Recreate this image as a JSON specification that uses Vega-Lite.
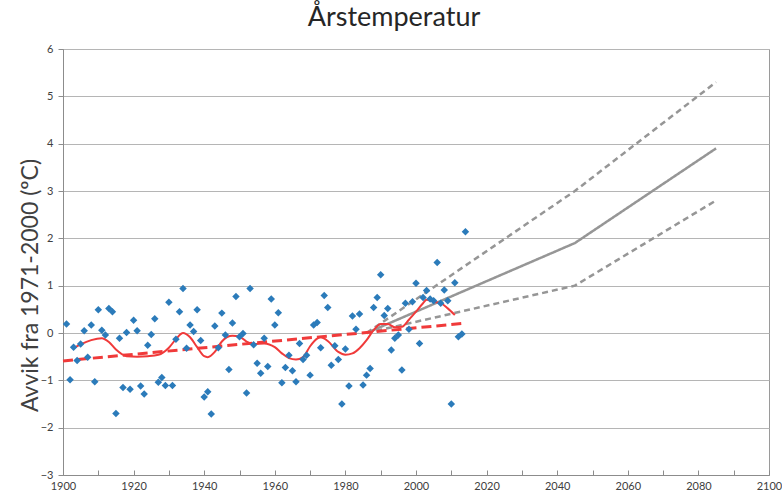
{
  "$schema": "https://vega.github.io/schema/vega-lite/v6.json",
  "autosize": "none",
  "width": 706,
  "height": 426,
  "padding": {"left": 63, "top": 49, "right": 13, "bottom": 25},
  "background": "white",
  "config": {
    "font": "Lato",
    "view": {"stroke": "#9a9a9a", "strokeWidth": 1},
    "axis": {
      "labelFont": "Lato",
      "labelFontSize": 11,
      "labelColor": "#404040",
      "domainColor": "#8c8c8c",
      "tickColor": "#8c8c8c",
      "gridColor": "#b5b5b5",
      "gridWidth": 1
    }
  },
  "title": {
    "text": "Årstemperatur",
    "font": "Lato",
    "fontSize": 27,
    "fontWeight": "normal",
    "color": "#262626",
    "anchor": "middle",
    "dx": -22,
    "offset": 11
  },
  "datasets": {
    "obs": [
      {"year": 1901, "avvik": 0.19}, {"year": 1902, "avvik": -0.99}, {"year": 1903, "avvik": -0.30},
      {"year": 1904, "avvik": -0.58}, {"year": 1905, "avvik": -0.23}, {"year": 1906, "avvik": 0.05},
      {"year": 1907, "avvik": -0.51}, {"year": 1908, "avvik": 0.17}, {"year": 1909, "avvik": -1.03},
      {"year": 1910, "avvik": 0.49}, {"year": 1911, "avvik": 0.06}, {"year": 1912, "avvik": -0.04},
      {"year": 1913, "avvik": 0.52}, {"year": 1914, "avvik": 0.45}, {"year": 1915, "avvik": -1.70},
      {"year": 1916, "avvik": -0.11}, {"year": 1917, "avvik": -1.15}, {"year": 1918, "avvik": 0.01},
      {"year": 1919, "avvik": -1.19}, {"year": 1920, "avvik": 0.27}, {"year": 1921, "avvik": 0.05},
      {"year": 1922, "avvik": -1.12}, {"year": 1923, "avvik": -1.29}, {"year": 1924, "avvik": -0.26},
      {"year": 1925, "avvik": -0.03}, {"year": 1926, "avvik": 0.30}, {"year": 1927, "avvik": -1.04},
      {"year": 1928, "avvik": -0.94}, {"year": 1929, "avvik": -1.11}, {"year": 1930, "avvik": 0.65},
      {"year": 1931, "avvik": -1.11}, {"year": 1932, "avvik": -0.13}, {"year": 1933, "avvik": 0.45},
      {"year": 1934, "avvik": 0.94}, {"year": 1935, "avvik": -0.32}, {"year": 1936, "avvik": 0.17},
      {"year": 1937, "avvik": 0.03}, {"year": 1938, "avvik": 0.49}, {"year": 1939, "avvik": -0.16},
      {"year": 1940, "avvik": -1.35}, {"year": 1941, "avvik": -1.24}, {"year": 1942, "avvik": -1.71},
      {"year": 1943, "avvik": 0.15}, {"year": 1944, "avvik": -0.31}, {"year": 1945, "avvik": 0.42},
      {"year": 1946, "avvik": -0.04}, {"year": 1947, "avvik": -0.77}, {"year": 1948, "avvik": 0.21},
      {"year": 1949, "avvik": 0.77}, {"year": 1950, "avvik": -0.08}, {"year": 1951, "avvik": -0.01},
      {"year": 1952, "avvik": -1.27}, {"year": 1953, "avvik": 0.94}, {"year": 1954, "avvik": -0.25},
      {"year": 1955, "avvik": -0.64}, {"year": 1956, "avvik": -0.85}, {"year": 1957, "avvik": -0.11},
      {"year": 1958, "avvik": -0.71}, {"year": 1959, "avvik": 0.72}, {"year": 1960, "avvik": 0.17},
      {"year": 1961, "avvik": 0.43}, {"year": 1962, "avvik": -1.05}, {"year": 1963, "avvik": -0.73},
      {"year": 1964, "avvik": -0.47}, {"year": 1965, "avvik": -0.80}, {"year": 1966, "avvik": -1.03},
      {"year": 1967, "avvik": -0.22}, {"year": 1968, "avvik": -0.56}, {"year": 1969, "avvik": -0.47},
      {"year": 1970, "avvik": -0.89}, {"year": 1971, "avvik": 0.17}, {"year": 1972, "avvik": 0.22},
      {"year": 1973, "avvik": -0.31}, {"year": 1974, "avvik": 0.79}, {"year": 1975, "avvik": 0.54},
      {"year": 1976, "avvik": -0.68}, {"year": 1977, "avvik": -0.27}, {"year": 1978, "avvik": -0.56},
      {"year": 1979, "avvik": -1.50}, {"year": 1980, "avvik": -0.34}, {"year": 1981, "avvik": -1.12},
      {"year": 1982, "avvik": 0.36}, {"year": 1983, "avvik": 0.08}, {"year": 1984, "avvik": 0.40},
      {"year": 1985, "avvik": -1.10}, {"year": 1986, "avvik": -0.89}, {"year": 1987, "avvik": -0.75},
      {"year": 1988, "avvik": 0.54}, {"year": 1989, "avvik": 0.75}, {"year": 1990, "avvik": 1.23},
      {"year": 1991, "avvik": 0.37}, {"year": 1992, "avvik": 0.52}, {"year": 1993, "avvik": -0.36},
      {"year": 1994, "avvik": -0.11}, {"year": 1995, "avvik": -0.04}, {"year": 1996, "avvik": -0.78},
      {"year": 1997, "avvik": 0.63}, {"year": 1998, "avvik": 0.08}, {"year": 1999, "avvik": 0.66},
      {"year": 2000, "avvik": 1.05}, {"year": 2001, "avvik": -0.22}, {"year": 2002, "avvik": 0.75},
      {"year": 2003, "avvik": 0.90}, {"year": 2004, "avvik": 0.72}, {"year": 2005, "avvik": 0.68},
      {"year": 2006, "avvik": 1.49}, {"year": 2007, "avvik": 0.63}, {"year": 2008, "avvik": 0.91},
      {"year": 2009, "avvik": 0.68}, {"year": 2010, "avvik": -1.50}, {"year": 2011, "avvik": 1.06},
      {"year": 2012, "avvik": -0.08}, {"year": 2013, "avvik": -0.02}, {"year": 2014, "avvik": 2.14}
    ],
    "smooth": [
      {"year": 1903, "avvik": -0.32}, {"year": 1905, "avvik": -0.24}, {"year": 1908, "avvik": -0.15},
      {"year": 1911, "avvik": -0.11}, {"year": 1913, "avvik": -0.19}, {"year": 1915, "avvik": -0.35},
      {"year": 1918, "avvik": -0.49}, {"year": 1921, "avvik": -0.50}, {"year": 1924, "avvik": -0.49},
      {"year": 1927, "avvik": -0.46}, {"year": 1930, "avvik": -0.31}, {"year": 1932, "avvik": -0.13},
      {"year": 1934, "avvik": 0.0}, {"year": 1936, "avvik": -0.09}, {"year": 1938, "avvik": -0.30},
      {"year": 1940, "avvik": -0.49}, {"year": 1941, "avvik": -0.51}, {"year": 1943, "avvik": -0.40},
      {"year": 1945, "avvik": -0.18}, {"year": 1948, "avvik": -0.06}, {"year": 1950, "avvik": -0.08},
      {"year": 1952, "avvik": -0.18}, {"year": 1954, "avvik": -0.23}, {"year": 1957, "avvik": -0.22},
      {"year": 1960, "avvik": -0.30}, {"year": 1962, "avvik": -0.43}, {"year": 1964, "avvik": -0.53},
      {"year": 1966, "avvik": -0.56}, {"year": 1968, "avvik": -0.51}, {"year": 1970, "avvik": -0.28},
      {"year": 1972, "avvik": -0.12}, {"year": 1973, "avvik": -0.09}, {"year": 1975, "avvik": -0.17},
      {"year": 1978, "avvik": -0.40}, {"year": 1980, "avvik": -0.46}, {"year": 1982, "avvik": -0.43},
      {"year": 1984, "avvik": -0.32}, {"year": 1986, "avvik": -0.15}, {"year": 1988, "avvik": 0.06},
      {"year": 1990, "avvik": 0.19}, {"year": 1992, "avvik": 0.19}, {"year": 1994, "avvik": 0.12},
      {"year": 1996, "avvik": 0.13}, {"year": 1998, "avvik": 0.28}, {"year": 2000, "avvik": 0.45},
      {"year": 2002, "avvik": 0.63}, {"year": 2003, "avvik": 0.70}, {"year": 2005, "avvik": 0.66},
      {"year": 2007, "avvik": 0.63}, {"year": 2009, "avvik": 0.52}, {"year": 2011, "avvik": 0.38}
    ],
    "trend": [
      {"year": 1900, "avvik": -0.59},
      {"year": 2013, "avvik": 0.20}
    ],
    "projection": [
      {"series": "median", "year": 1986, "avvik": 0.0},
      {"series": "median", "year": 2045, "avvik": 1.9},
      {"series": "median", "year": 2085, "avvik": 3.9},
      {"series": "high", "year": 1986, "avvik": 0.0},
      {"series": "high", "year": 2045, "avvik": 3.0},
      {"series": "high", "year": 2085, "avvik": 5.3},
      {"series": "low", "year": 1986, "avvik": 0.0},
      {"series": "low", "year": 2045, "avvik": 1.0},
      {"series": "low", "year": 2085, "avvik": 2.8}
    ]
  },
  "encoding": {
    "x": {
      "field": "year",
      "type": "quantitative",
      "scale": {"domain": [1900, 2100], "nice": false, "zero": false},
      "axis": {
        "title": null,
        "grid": false,
        "values": [1900, 1910, 1920, 1930, 1940, 1950, 1960, 1970, 1980, 1990, 2000, 2010, 2020, 2030, 2040, 2050, 2060, 2070, 2080, 2090, 2100],
        "labelExpr": "datum.value % 20 == 0 ? datum.label : ''",
        "format": "d",
        "tickSize": -5,
        "labelPadding": 10,
        "labelFlush": false,
        "labelOverlap": false
      }
    },
    "y": {
      "field": "avvik",
      "type": "quantitative",
      "scale": {"domain": [-3, 6], "nice": false, "zero": false},
      "axis": {
        "title": "Avvik fra 1971-2000 (ºC)",
        "titleFont": "Lato",
        "titleFontSize": 23,
        "titleFontWeight": "normal",
        "titleColor": "#404040",
        "titleAngle": 270,
        "titleAlign": "center",
        "titleBaseline": "middle",
        "titleX": -33,
        "titleY": 236,
        "values": [-3, -2, -1, 0, 1, 2, 3, 4, 5, 6],
        "tickSize": 5,
        "labelPadding": 5,
        "grid": true
      }
    }
  },
  "layer": [
    {
      "data": {"name": "projection"},
      "mark": {"type": "line", "strokeWidth": 2.5},
      "encoding": {
        "detail": {"field": "series"},
        "color": {"value": "#969696"},
        "strokeDash": {
          "field": "series",
          "type": "nominal",
          "scale": {"domain": ["median", "high", "low"], "range": [[1, 0], [6, 4], [6, 4]]},
          "legend": null
        }
      }
    },
    {
      "data": {"name": "trend"},
      "mark": {"type": "line", "color": "#f03a3a", "strokeWidth": 3, "strokeDash": [10, 5]},
      "encoding": {}
    },
    {
      "data": {"name": "smooth"},
      "mark": {"type": "line", "color": "#f03a3a", "strokeWidth": 2, "interpolate": "monotone"},
      "encoding": {}
    },
    {
      "data": {"name": "obs"},
      "mark": {"type": "point", "shape": "diamond", "filled": true, "size": 56, "color": "#2b7bba", "opacity": 1},
      "encoding": {}
    }
  ]
}
